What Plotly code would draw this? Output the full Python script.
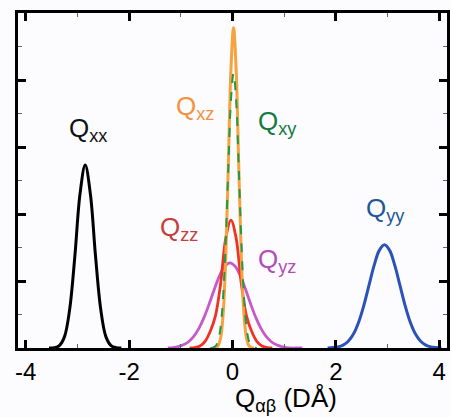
import plotly.graph_objects as go

# ---- data (x in D*Angstrom, y in arbitrary units 0..5) ----
xx_x = [-3.55, -3.45, -3.35, -3.25, -3.15, -3.05, -2.95, -2.85, -2.75, -2.65, -2.55, -2.45, -2.35, -2.25, -2.15]
xx_y = [0.0, 0.005, 0.036, 0.17, 0.58, 1.37, 2.30, 2.73, 2.30, 1.37, 0.58, 0.17, 0.036, 0.005, 0.0]

yy_x = [1.84, 1.94, 2.04, 2.14, 2.24, 2.34, 2.44, 2.54, 2.64, 2.74, 2.84, 2.94, 3.04, 3.14, 3.24, 3.34, 3.44, 3.54, 3.64, 3.74, 3.84, 3.94, 4.04]
yy_y = [0.0, 0.006, 0.017, 0.044, 0.101, 0.208, 0.384, 0.633, 0.934, 1.233, 1.457, 1.54, 1.457, 1.233, 0.934, 0.633, 0.384, 0.208, 0.101, 0.044, 0.017, 0.006, 0.0]

xz_x = [-0.38, -0.33, -0.28, -0.23, -0.18, -0.13, -0.08, -0.03, 0.02, 0.07, 0.12, 0.17, 0.22, 0.27, 0.32, 0.37, 0.42]
xz_y = [0.0, 0.005, 0.033, 0.15, 0.52, 1.37, 2.75, 4.16, 4.78, 4.16, 2.75, 1.37, 0.52, 0.15, 0.033, 0.005, 0.0]

xy_x = [-0.43, -0.38, -0.33, -0.28, -0.23, -0.18, -0.13, -0.08, -0.03, 0.02, 0.07, 0.12, 0.17, 0.22, 0.27, 0.32, 0.37, 0.42, 0.47]
xy_y = [0.0, 0.006, 0.026, 0.10, 0.31, 0.785, 1.62, 2.71, 3.70, 4.10, 3.70, 2.71, 1.62, 0.785, 0.31, 0.10, 0.026, 0.006, 0.0]

zz_x = [-0.83, -0.73, -0.63, -0.53, -0.43, -0.33, -0.23, -0.13, -0.03, 0.07, 0.17, 0.27, 0.37, 0.47, 0.57, 0.67, 0.77]
zz_y = [0.0, 0.005, 0.03, 0.10, 0.25, 0.48, 0.96, 1.64, 1.91, 1.64, 0.96, 0.48, 0.25, 0.10, 0.03, 0.005, 0.0]

yz_x = [-1.25, -1.15, -1.05, -0.95, -0.85, -0.75, -0.65, -0.55, -0.45, -0.35, -0.25, -0.15, -0.05, 0.05, 0.15, 0.25, 0.35, 0.45, 0.55, 0.65, 0.75, 0.85, 0.95, 1.05, 1.15, 1.25, 1.35]
yz_y = [0.0, 0.007, 0.021, 0.047, 0.093, 0.172, 0.292, 0.457, 0.66, 0.88, 1.08, 1.22, 1.27, 1.22, 1.08, 0.88, 0.66, 0.457, 0.292, 0.172, 0.093, 0.047, 0.021, 0.007, 0.0, 0.0, 0.0]

x_tick_vals = [-4, -2, 0, 2, 4]
x_tick_text = ["-4", "-2", "0", "2", "4"]

labels = ["Q<sub>xx</sub>", "Q<sub>xz</sub>", "Q<sub>xy</sub>", "Q<sub>zz</sub>", "Q<sub>yz</sub>", "Q<sub>yy</sub>"]
label_x = [-2.80, -0.72, 0.87, -1.04, 0.87, 2.96]
label_y = [3.26, 3.59, 3.36, 1.79, 1.31, 2.06]
label_colors = ["#111111", "#F5913E", "#137A3F", "#C2403C", "#B24CB8", "#1F5896"]

fig = go.Figure()
fig.add_trace(go.Scatter(x=yz_x, y=yz_y, mode="lines", line=dict(color="#C55AC8", width=2.8, shape="spline")))
fig.add_trace(go.Scatter(x=zz_x, y=zz_y, mode="lines", line=dict(color="#EE3324", width=2.8, shape="spline")))
fig.add_trace(go.Scatter(x=xz_x, y=xz_y, mode="lines", line=dict(color="#F7A23C", width=3, shape="spline")))
fig.add_trace(go.Scatter(x=xy_x, y=xy_y, mode="lines", line=dict(color="#1E9A48", width=2, dash="dash", shape="spline")))
fig.add_trace(go.Scatter(x=xx_x, y=xx_y, mode="lines", line=dict(color="#000000", width=3, shape="spline")))
fig.add_trace(go.Scatter(x=yy_x, y=yy_y, mode="lines", line=dict(color="#2A52B8", width=3, shape="spline")))

for t, x, y, c in zip(labels, label_x, label_y, label_colors):
    fig.add_annotation(x=x, y=y, text=t, showarrow=False, xanchor="center", yanchor="middle",
                       font=dict(size=26, color=c, family="Liberation Sans, Arial, sans-serif"))

fig.add_annotation(xref="paper", yref="paper", x=0.625, y=-0.155, text="Q<sub>αβ</sub> (DÅ)",
                   showarrow=False, xanchor="center", yanchor="middle",
                   font=dict(size=26, color="#000000", family="Liberation Sans, Arial, sans-serif"))

fig.update_layout(
    width=450, height=417,
    margin=dict(l=18, r=0, t=13, b=69),
    paper_bgcolor="#fcfcfe", plot_bgcolor="#fcfcfe",
    showlegend=False,
    font=dict(family="Liberation Sans, Arial, sans-serif", color="#000000"),
)
fig.update_xaxes(
    range=[-4.15, 4.15], showgrid=False, zeroline=False,
    showline=True, linecolor="#000000", linewidth=2.5, mirror="allticks",
    ticks="inside", ticklen=8, tickwidth=2.5, tickcolor="#000000",
    tickvals=x_tick_vals, ticktext=x_tick_text, tickfont=dict(size=24, color="#000000"),
    minor=dict(ticks="inside", ticklen=4, tickwidth=1, tickcolor="#556677", dtick=1, tick0=-4),
)
fig.update_yaxes(
    range=[0, 5], showgrid=False, zeroline=False,
    showline=True, linecolor="#000000", linewidth=2.5, mirror="allticks",
    ticks="inside", ticklen=8, tickwidth=2.5, tickcolor="#000000",
    dtick=1, showticklabels=False,
    minor=dict(ticks="inside", ticklen=4, tickwidth=1, tickcolor="#556677", dtick=0.5, tick0=0),
)

fig.write_html("out.html", config={"displayModeBar": False},
               post_script="document.body.style.margin='0';document.body.style.overflow='hidden';")
